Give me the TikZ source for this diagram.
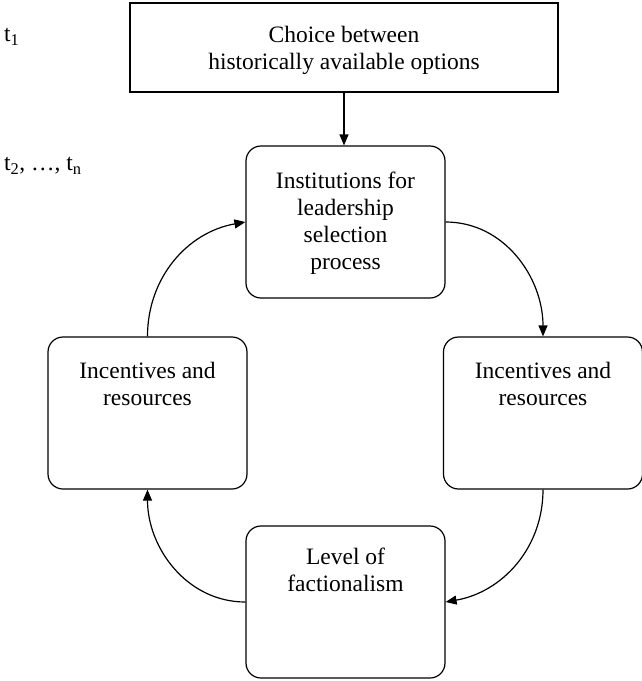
\documentclass[tikz,border=0pt]{standalone}
\usepackage{fontspec}
\setmainfont{Liberation Serif}
\usetikzlibrary{arrows.meta}
\begin{document}
\begin{tikzpicture}[x=1pt,y=1pt,
  font=\fontsize{23.5}{27}\selectfont,
  sqbox/.style={draw, line width=1.2pt, rectangle, inner sep=0pt},
  rbox/.style={draw, line width=1.2pt, rectangle, rounded corners=15pt, inner sep=0pt,
    minimum width=199pt, minimum height=152pt},
  txt/.style={align=center, inner sep=0pt},
  conn/.style={line width=1.2pt, -{Triangle[length=11pt,width=9pt]}}]
\useasboundingbox (0,0) rectangle (642,-681);

\node[sqbox, minimum width=428pt, minimum height=89pt] (top) at (344,-47.5) {};
\node[txt] (toptxt) at (344,-50) {Choice between\\historically available options};

\node[rbox] (inst) at (345.5,-222) {};
\node[txt] (insttxt) at (345.5,-223) {Institutions for\\leadership\\selection\\process};

\node[rbox] (left) at (147.5,-413) {};
\node[txt] (lefttxt) at (147.5,-384) {Incentives and\\resources};

\node[rbox] (right) at (543,-413) {};
\node[txt] (righttxt) at (543,-384) {Incentives and\\resources};

\node[rbox] (bot) at (345.5,-602) {};
\node[txt] (bottxt) at (345.5,-570) {Level of\\factionalism};

\node[anchor=west, inner sep=0pt] (t1) at (4,-37) {t\textsubscript{1}};
\node[anchor=west, inner sep=0pt] (t2) at (4,-166) {t\textsubscript{2}, …, t\textsubscript{n}};

\draw[conn] (top.south) -- (inst.north -| top.south);
\draw[conn] (inst.east) to[out=0,in=90] (right.north);
\draw[conn] (right.south) to[out=-90,in=10] (bot.east);
\draw[conn] (bot.west) to[out=180,in=-90] (left.south);
\draw[conn] (left.north) to[out=90,in=190] (inst.west);
\end{tikzpicture}
\end{document}
